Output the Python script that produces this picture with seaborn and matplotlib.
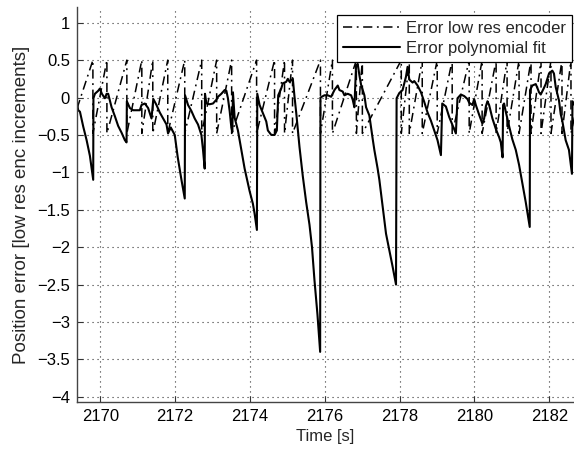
import numpy as np
import pandas as pd
import matplotlib
matplotlib.use("Agg")
import matplotlib.pyplot as plt
from matplotlib.ticker import FuncFormatter
import seaborn as sns

# ---- data: polynomial-fit position error (time [s], error [increments]) ----
fit_t = [2169.379, 2169.413, 2169.459, 2169.547, 2169.637, 2169.725, 2169.813, 2169.819,
         2169.859, 2169.947, 2169.992, 2170.045, 2170.125, 2170.171, 2170.213, 2170.304,
         2170.392, 2170.480, 2170.571, 2170.659, 2170.704, 2170.712, 2170.792, 2170.880,
         2170.971, 2171.059, 2171.104, 2171.192, 2171.280, 2171.371, 2171.419, 2171.504,
         2171.592, 2171.680, 2171.771, 2171.813, 2171.885, 2171.992, 2172.072, 2172.171,
         2172.259, 2172.267, 2172.347, 2172.437, 2172.525, 2172.613, 2172.704, 2172.747,
         2172.792, 2172.800, 2172.837, 2172.925, 2173.013, 2173.104, 2173.147, 2173.237,
         2173.325, 2173.371, 2173.413, 2173.459, 2173.504, 2173.531, 2173.547, 2173.592,
         2173.680, 2173.771, 2173.859, 2173.992, 2174.080, 2174.125, 2174.187, 2174.197,
         2174.259, 2174.347, 2174.437, 2174.480, 2174.571, 2174.659, 2174.720, 2174.757,
         2174.837, 2174.880, 2174.971, 2175.013, 2175.059, 2175.104, 2175.147, 2175.192,
         2175.237, 2175.280, 2175.325, 2175.413, 2175.504, 2175.592, 2175.659, 2175.725,
         2175.805, 2175.877, 2175.885, 2175.992, 2176.080, 2176.171, 2176.259, 2176.347,
         2176.392, 2176.480, 2176.525, 2176.613, 2176.704, 2176.747, 2176.792, 2176.837,
         2176.880, 2176.925, 2176.971, 2177.059, 2177.104, 2177.192, 2177.237, 2177.280,
         2177.325, 2177.413, 2177.459, 2177.637, 2177.813, 2177.904, 2177.920, 2177.992,
         2178.080, 2178.171, 2178.213, 2178.259, 2178.347, 2178.392, 2178.480, 2178.571,
         2178.659, 2178.747, 2178.837, 2178.925, 2179.013, 2179.104, 2179.139, 2179.237,
         2179.325, 2179.413, 2179.504, 2179.547, 2179.637, 2179.725, 2179.813, 2179.859,
         2179.947, 2179.992, 2180.037, 2180.125, 2180.213, 2180.259, 2180.304, 2180.347,
         2180.392, 2180.480, 2180.571, 2180.659, 2180.704, 2180.752, 2180.765, 2180.792,
         2180.837, 2180.925, 2181.013, 2181.104, 2181.192, 2181.280, 2181.371, 2181.477,
         2181.485, 2181.547, 2181.637, 2181.680, 2181.725, 2181.771, 2181.859, 2181.904,
         2181.992, 2182.037, 2182.080, 2182.125, 2182.171, 2182.259, 2182.304, 2182.347,
         2182.392, 2182.437, 2182.525, 2182.605, 2182.619, 2182.700]
fit_err = [-0.08, -0.17, -0.19, -0.39, -0.57, -0.78, -1.10, -0.01,
           0.05, 0.09, 0.12, 0.05, -0.01, 0.05, 0.05, -0.13,
           -0.25, -0.38, -0.47, -0.57, -0.60, -0.05, -0.14, -0.17,
           -0.17, -0.17, -0.10, -0.08, -0.14, -0.28, -0.02, -0.10,
           -0.20, -0.28, -0.36, -0.48, -0.40, -0.50, -0.80, -1.10,
           -1.35, 0.03, -0.10, -0.18, -0.28, -0.36, -0.50, -0.70,
           -0.95, 0.05, -0.08, -0.09, -0.08, -0.03, 0.01, 0.05,
           0.10, 0.09, -0.01, -0.18, -0.40, -0.46, 0.07, -0.27,
           -0.44, -0.70, -0.95, -1.25, -1.42, -1.55, -1.77, 0.05,
           -0.10, -0.21, -0.32, -0.44, -0.50, -0.50, -0.44, 0.03,
           0.12, 0.19, 0.21, 0.25, 0.21, 0.23, 0.25, 0.01,
           -0.20, -0.42, -0.66, -1.05, -1.40, -1.70, -2.00, -2.44,
           -2.90, -3.40, 0.00, 0.03, 0.03, 0.01, 0.10, 0.16,
           0.10, 0.08, 0.03, 0.05, 0.03, -0.03, -0.13, 0.43,
           0.45, 0.30, 0.17, 0.03, -0.13, -0.24, -0.40, -0.55,
           -0.70, -0.95, -1.10, -1.82, -2.26, -2.50, -0.01, 0.06,
           0.10, 0.28, 0.41, 0.24, 0.20, 0.22, 0.16, 0.07,
           -0.06, -0.20, -0.31, -0.44, -0.57, -0.77, -0.08, -0.12,
           -0.26, -0.37, -0.48, -0.01, 0.04, 0.02, -0.02, -0.07,
           -0.10, -0.02, -0.10, -0.23, -0.35, -0.28, -0.12, -0.05,
           -0.10, -0.28, -0.42, -0.53, -0.60, -0.80, -0.10, -0.08,
           -0.19, -0.38, -0.56, -0.70, -0.90, -1.15, -1.40, -1.73,
           0.10, 0.16, 0.18, 0.13, 0.07, 0.04, 0.13, 0.18,
           0.32, 0.34, 0.36, 0.32, 0.14, -0.04, -0.22, -0.31,
           -0.44, -0.57, -0.70, -1.02, -0.05, -0.12]

# ---- data: low-res encoder quantisation error (sawtooth vertices) ----
enc_start = (2169.379, -0.15)
enc_end = (2182.700, -0.20)
enc_drop_t = [2169.805, 2170.179, 2170.712, 2171.112, 2171.405, 2171.805, 2172.259,
              2172.712, 2173.112, 2173.512, 2174.179, 2174.659, 2174.925, 2175.139,
              2175.885, 2176.205, 2176.845, 2177.005, 2178.045, 2178.259, 2178.605,
              2179.005, 2179.405, 2179.859, 2180.205, 2180.579, 2180.872, 2181.192,
              2181.512, 2181.779, 2182.045, 2182.339, 2182.579]
enc_top = 0.50
enc_bottom = -0.48

enc_t = [enc_start[0]]
enc_err = [enc_start[1]]
for d in enc_drop_t:
    enc_t += [d, d]
    enc_err += [enc_top, enc_bottom]
enc_t.append(enc_end[0])
enc_err.append(enc_end[1])

# tick values
x_ticks = [2170, 2172, 2174, 2176, 2178, 2180, 2182]
y_ticks = [-4, -3.5, -3, -2.5, -2, -1.5, -1, -0.5, 0, 0.5, 1]

enc_df = pd.DataFrame({"t": enc_t, "err": enc_err})
fit_df = pd.DataFrame({"t": fit_t, "err": fit_err})

sns.set_style("white")
plt.rcParams["font.family"] = ["Liberation Sans", "DejaVu Sans"]

fig = plt.figure(figsize=(5.74, 4.53), dpi=100)
ax = fig.add_axes([77 / 574, 1 - 402 / 453, 1 - 77 / 574, (402 - 7) / 453])

sns.lineplot(data=enc_df, x="t", y="err", estimator=None, sort=False, ax=ax,
             color="black", linewidth=1.1, linestyle=(0, (6, 3, 1.2, 3)),
             label="Error low res encoder")
sns.lineplot(data=fit_df, x="t", y="err", estimator=None, sort=False, ax=ax,
             color="black", linewidth=1.5, linestyle="-",
             label="Error polynomial fit")

ax.set_xlim(2169.38, 2182.66)
ax.set_ylim(-4.07, 1.21)
ax.set_xticks(x_ticks)
ax.set_yticks(y_ticks)
fmt = FuncFormatter(lambda v, p: ("%g" % v).replace("-", "\u2212"))
ax.yaxis.set_major_formatter(fmt)
ax.xaxis.set_major_formatter(FuncFormatter(lambda v, p: "%g" % v))

ax.grid(True, color="#333333", linestyle=(0, (1, 3.5)), linewidth=0.8)
ax.set_axisbelow(True)
for s in ["top", "right"]:
    ax.spines[s].set_visible(False)
for s in ["left", "bottom"]:
    ax.spines[s].set_color("#444444")
    ax.spines[s].set_linewidth(1.0)
ax.tick_params(direction="in", length=4, width=0.8, colors="#333333",
               labelcolor="black", labelsize=12, top=False, right=False,
               left=True, bottom=True)
ax.tick_params(axis="x", pad=5)
ax.tick_params(axis="y", pad=5)

ax.set_xlabel("Time [s]", fontsize=12, labelpad=4)
ax.set_ylabel("Position error [low res enc increments]", fontsize=13.5, labelpad=5)

leg = ax.legend(loc="upper right", bbox_to_anchor=(0.996, 0.98), borderaxespad=0,
                fontsize=12, frameon=True, fancybox=False, framealpha=1,
                edgecolor="black", handlelength=3.4, handletextpad=0.4,
                borderpad=0.35, labelspacing=0.3)
leg.get_frame().set_linewidth(0.9)

fig.savefig("out.png", dpi=100)
